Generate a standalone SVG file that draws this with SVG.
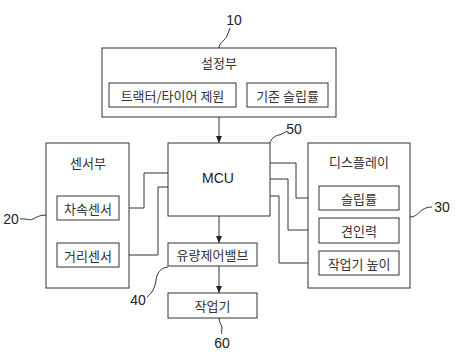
<svg xmlns="http://www.w3.org/2000/svg" width="460" height="355" viewBox="0 0 460 355">
<defs>
<marker id="ah" markerWidth="8" markerHeight="6" refX="7" refY="3" orient="auto" markerUnits="userSpaceOnUse">
<path d="M0,0 L7,3 L0,6 Z" fill="#222"/>
</marker>
<style>
.box{fill:#fff;stroke:#333;stroke-width:1}
.t{font-family:"Noto Sans CJK KR","Liberation Sans",sans-serif;font-size:13px;fill:#333;text-anchor:middle;dominant-baseline:central}
.n{font-family:"Liberation Sans",sans-serif;font-size:14px;fill:#222;text-anchor:middle;dominant-baseline:central}
.c{fill:none;stroke:#333;stroke-width:1}
</style>
</defs>
<rect width="460" height="355" fill="#fff"/>
<g id="connectors">
<path class="c" d="M219,117 V143" marker-end="url(#ah)"/>
<path class="c" d="M219,216 V243" marker-end="url(#ah)"/>
<path class="c" d="M219,266 V293" marker-end="url(#ah)"/>
<path class="c" d="M119,208 H144 V173 H168"/>
<path class="c" d="M119,255 H158 V187 H168"/>
<path class="c" d="M270,163 H296 V198 H319" marker-end="url(#ah)"/>
<path class="c" d="M270,179 H288 V230 H319" marker-end="url(#ah)"/>
<path class="c" d="M270,196 H279 V263 H319" marker-end="url(#ah)"/>
</g>
<g id="node10">
<rect class="box" x="102" y="48" width="234" height="69"/>
<text class="t" x="219" y="62">설정부</text>
<rect class="box" x="109" y="83" width="127" height="24"/>
<text class="t" x="172.5" y="95">트랙터/타이어 제원</text>
<rect class="box" x="247" y="83" width="81" height="24"/>
<text class="t" x="287.5" y="95">기준 슬립률</text>
<path class="c" d="M219,48 C219,42 226,40 227,36 C228,33 229,31 230,28"/>
<text class="n" x="234" y="20">10</text>
</g>
<g id="node20">
<rect class="box" x="46" y="143" width="83" height="145"/>
<text class="t" x="88" y="162">센서부</text>
<rect class="box" x="57" y="196" width="62" height="24"/>
<text class="t" x="88" y="208">차속센서</text>
<rect class="box" x="57" y="243" width="62" height="24"/>
<text class="t" x="88" y="255">거리센서</text>
<path class="c" d="M20,219 C26,218 29,221 33,219 C37,217 40,215 46,215"/>
<text class="n" x="11" y="219">20</text>
</g>
<g id="node50">
<rect class="box" x="168" y="143" width="102" height="73"/>
<text class="n" x="218" y="178">MCU</text>
<path class="c" d="M270,143 C271,139 274,136 279,135 C282,134 284,133 287,131"/>
<text class="n" x="294" y="129">50</text>
</g>
<g id="node30">
<rect class="box" x="308" y="143" width="102" height="145"/>
<text class="t" x="359" y="161">디스플레이</text>
<rect class="box" x="319" y="186" width="80" height="24"/>
<text class="t" x="359" y="198">슬립률</text>
<rect class="box" x="319" y="218" width="80" height="25"/>
<text class="t" x="359" y="230.5">견인력</text>
<rect class="box" x="319" y="251" width="80" height="24"/>
<text class="t" x="359" y="263">작업기 높이</text>
<path class="c" d="M410,217 C416,217 418,213 422,210 C425,208 428,207 432,207"/>
<text class="n" x="442" y="207">30</text>
</g>
<g id="node40">
<rect class="box" x="168" y="243" width="89" height="23"/>
<text class="t" x="212.5" y="254.5">유량제어밸브</text>
<path class="c" d="M168,267 C160,268 157,273 156,280 C155,288 152,293 147,297"/>
<text class="n" x="138" y="300">40</text>
</g>
<g id="node60">
<rect class="box" x="168" y="293" width="89" height="25"/>
<text class="t" x="212.5" y="305.5">작업기</text>
<path class="c" d="M219,318 C219,323 222,325 222,328 C222,330 221,332 222,334"/>
<text class="n" x="222" y="343">60</text>
</g>
</svg>
